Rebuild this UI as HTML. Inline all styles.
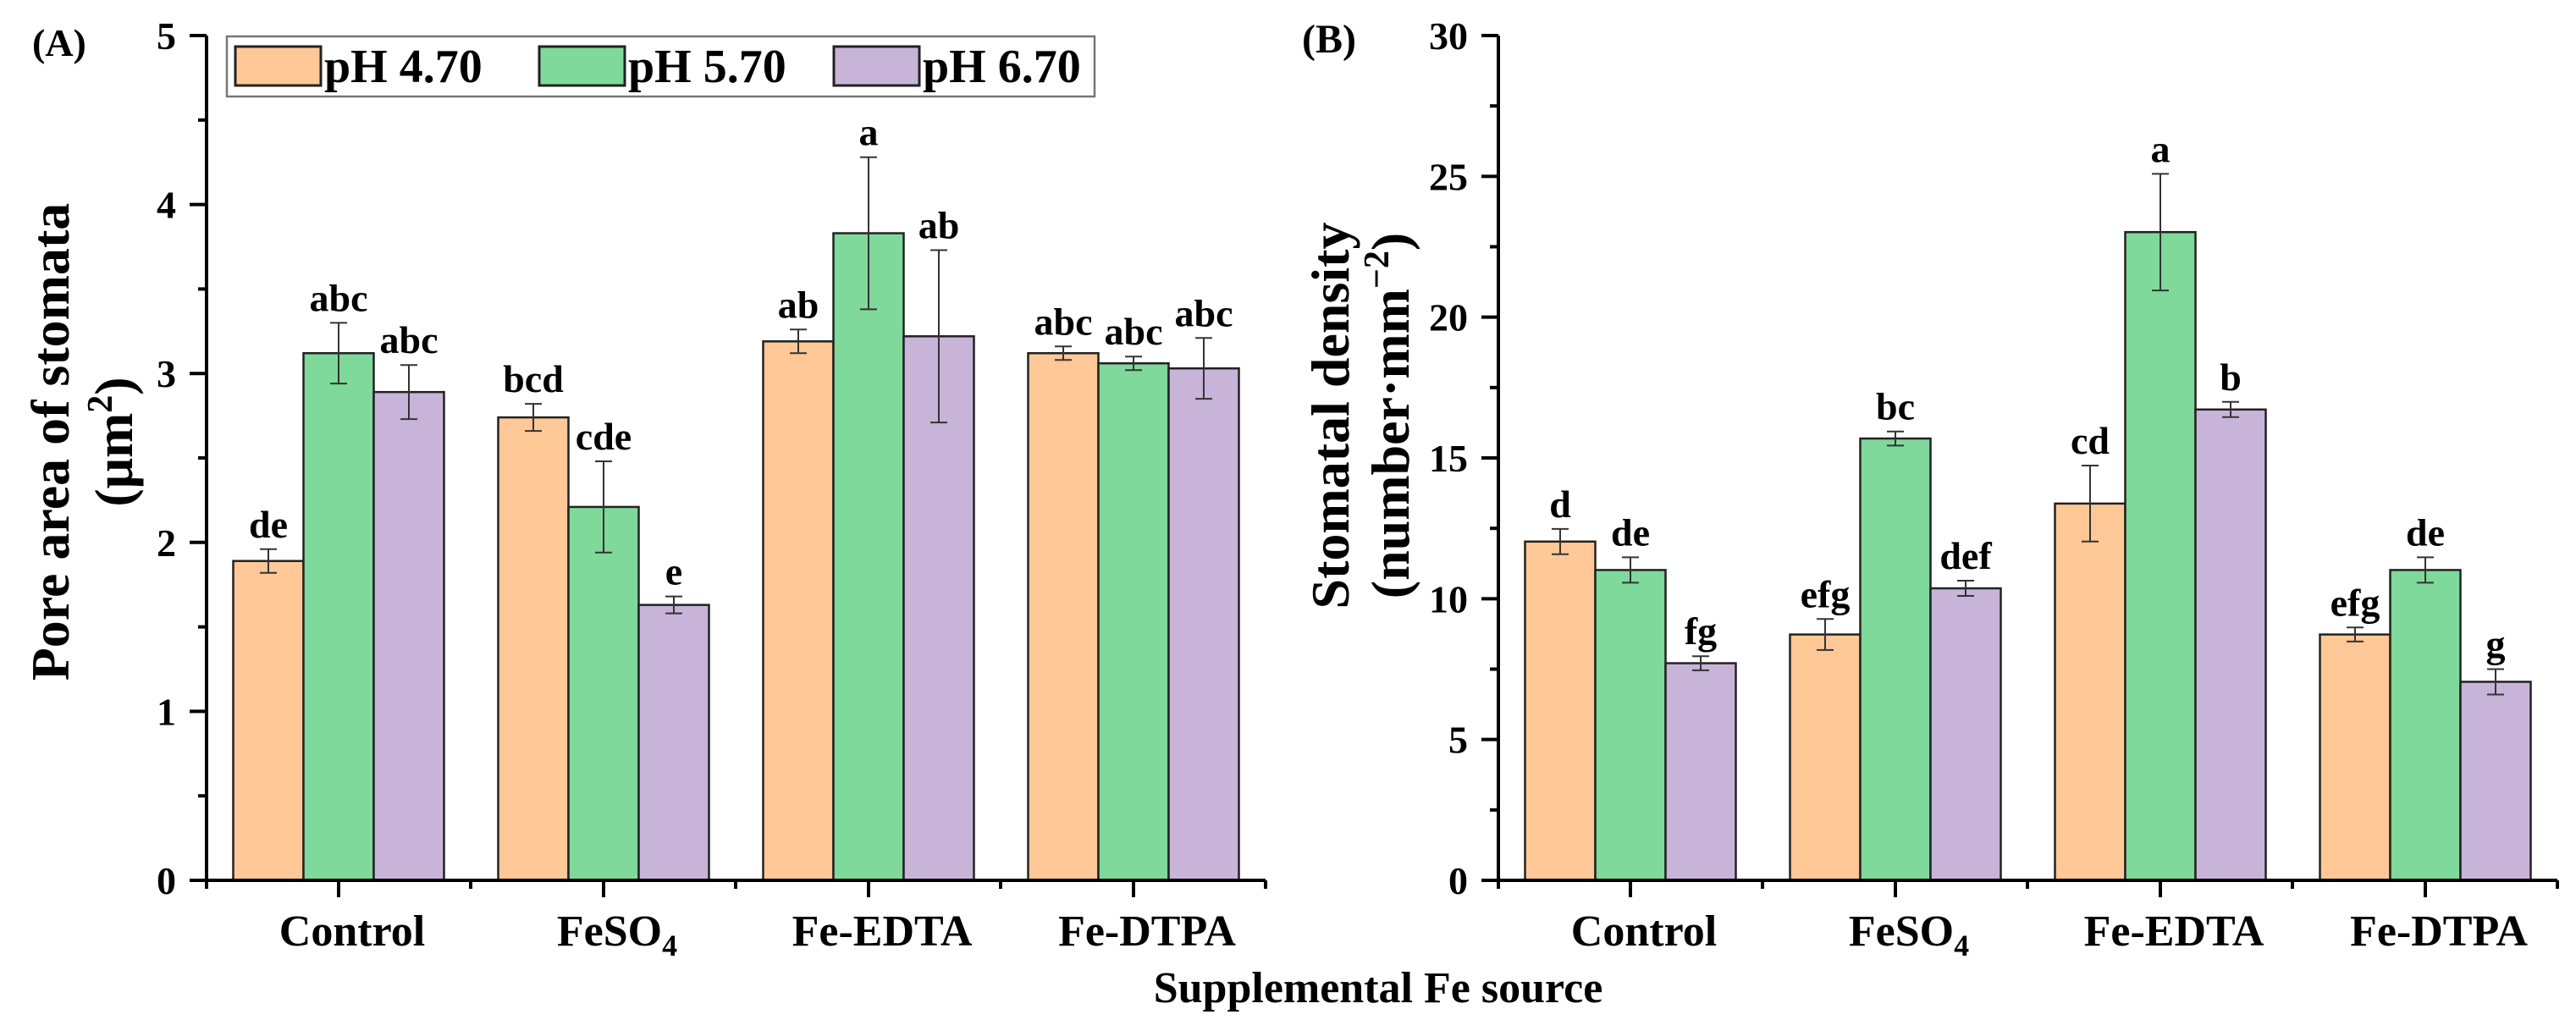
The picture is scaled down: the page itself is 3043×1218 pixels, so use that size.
<!DOCTYPE html>
<html><head><meta charset="utf-8">
<style>
html,body{margin:0;padding:0;background:#fff;}
svg{display:block;font-family:"Liberation Serif",serif;font-weight:bold;}
</style></head>
<body>
<svg id="fig" width="3043" height="1218" viewBox="0 0 3043 1218" xmlns="http://www.w3.org/2000/svg">
<rect x="0" y="0" width="3043" height="1218" fill="#fff"/>
<g id="panelA"></g>
<g id="panelB"></g>
<text x="1628" y="1184" font-size="52" text-anchor="middle">Supplemental Fe source</text>
<g>
  <rect x="268" y="43" width="1025" height="71" fill="#fff" stroke="#777" stroke-width="2.5"/>
  <g>
    <rect x="278" y="55" width="101" height="46" fill="#FFC896" stroke="#222" stroke-width="3"/>
    <text x="383" y="97" font-size="56">pH 4.70</text>
  </g>
  <g>
    <rect x="637" y="55" width="101" height="46" fill="#7FD99A" stroke="#222" stroke-width="3"/>
    <text x="742" y="97" font-size="56">pH 5.70</text>
  </g>
  <g>
    <rect x="985" y="55" width="101" height="46" fill="#C8B4D8" stroke="#222" stroke-width="3"/>
    <text x="1090" y="97" font-size="56">pH 6.70</text>
  </g>
</g>
</svg>
<script>
const categories = ["Control", "FeSO4", "Fe-EDTA", "Fe-DTPA"];
const seriesNames = ["pH 4.70", "pH 5.70", "pH 6.70"];
// Panel A: pore area (µm²)
const poreMeans = [[1.89, 2.74, 3.19, 3.12], [3.12, 2.21, 3.83, 3.06], [2.89, 1.63, 3.22, 3.03]];
const poreErrs  = [[0.07, 0.08, 0.07, 0.04], [0.18, 0.27, 0.45, 0.04], [0.16, 0.05, 0.51, 0.18]];
const poreLetters = [["de", "bcd", "ab", "abc"], ["abc", "cde", "a", "abc"], ["abc", "e", "ab", "abc"]];
const poreTicks = [0, 1, 2, 3, 4, 5];
// Panel B: stomatal density
const densMeans = [[12.03, 8.73, 13.38, 8.73], [11.02, 15.69, 23.02, 11.02], [7.71, 10.37, 16.72, 7.05]];
const densErrs  = [[0.45, 0.55, 1.35, 0.25], [0.45, 0.25, 2.07, 0.45], [0.25, 0.27, 0.27, 0.45]];
const densLetters = [["d", "efg", "cd", "efg"], ["de", "bc", "a", "de"], ["fg", "def", "b", "g"]];
const densTicks = [0, 5, 10, 15, 20, 25, 30];

const colors = ["#FFC896", "#7FD99A", "#C8B4D8"];
const NS = "http://www.w3.org/2000/svg";
function mk(tag, attrs, parent, txt) {
  const e = document.createElementNS(NS, tag);
  for (const k in attrs) e.setAttribute(k, attrs[k]);
  if (txt !== undefined) e.textContent = txt;
  parent.appendChild(e);
  return e;
}

function drawPanel(g, cfg) {
  const y0 = 1040, yTop = 42;
  const yMax = cfg.ticks[cfg.ticks.length - 1];
  const ys = v => y0 - (v / yMax) * (y0 - yTop);
  const step = 313;
  const xc = i => cfg.axisX + 156 + i * step;
  const bw = 83;
  // bars
  for (let s = 0; s < cfg.means.length; s++) {
    for (let i = 0; i < categories.length; i++) {
      const v = cfg.means[s][i], e = cfg.errs[s][i];
      const cx = xc(i) + (s - 1) * bw;
      const r = mk("rect", {x: cx - bw / 2, y: ys(v), width: bw, height: y0 - ys(v), fill: colors[s], stroke: "#222", "stroke-width": 2.5}, g);
      
      
      const eb = mk("path", {d: `M${cx},${ys(v + e)}V${ys(v - e)}M${cx - 10},${ys(v + e)}h20M${cx - 10},${ys(v - e)}h20`, stroke: "#333", "stroke-width": 2, fill: "none"}, g);
      
      
      const t = mk("text", {x: cx, y: ys(v + e) - 14, "font-size": 46, "text-anchor": "middle"}, g, cfg.letters[s][i]);
      
      
    }
  }
  const axEnd = xc(3) + 156;
  // axes
  const ax = mk("path", {d: `M${cfg.axisX},${yTop}V${y0}M${cfg.axisX - 20},${y0}H${axEnd}`, stroke: "#000", "stroke-width": 4, fill: "none"}, g);
  
  
  // y ticks
  for (let k = 0; k < cfg.ticks.length; k++) {
    const y = ys(cfg.ticks[k]);
    const tk = mk("line", {x1: cfg.axisX - 20, x2: cfg.axisX, y1: y, y2: y, stroke: "#000", "stroke-width": 4}, g);
    
    
    if (k < cfg.ticks.length - 1) {
      const ym = ys((cfg.ticks[k] + cfg.ticks[k + 1]) / 2);
      mk("line", {x1: cfg.axisX - 10, x2: cfg.axisX, y1: ym, y2: ym, stroke: "#000", "stroke-width": 4}, g);
    }
    const tl = mk("text", {x: cfg.axisX - 36, y: y + 16, "font-size": 46, "text-anchor": "end"}, g, String(cfg.ticks[k]));
    
    
  }
  // x ticks and labels
  for (let i = 0; i < categories.length; i++) {
    mk("line", {x1: xc(i), x2: xc(i), y1: y0, y2: y0 + 20, stroke: "#000", "stroke-width": 4}, g);
    mk("line", {x1: xc(i) + 156, x2: xc(i) + 156, y1: y0, y2: y0 + 10, stroke: "#000", "stroke-width": 4}, g);
    const lab = mk("text", {x: xc(i) + 16, y: 1117, "font-size": 52, "text-anchor": "middle"}, g);
    
    
    if (categories[i] === "FeSO4") {
      lab.textContent = "FeSO";
      mk("tspan", {"font-size": 36, dy: 12}, lab, "4");
    } else lab.textContent = categories[i];
  }
  mk("line", {x1: cfg.axisX, x2: cfg.axisX, y1: y0, y2: y0 + 10, stroke: "#000", "stroke-width": 4}, g);
}

const gA = document.getElementById("panelA");
drawPanel(gA, {axisX: 244, ticks: poreTicks, means: poreMeans, errs: poreErrs, letters: poreLetters});
const gB = document.getElementById("panelB");
drawPanel(gB, {axisX: 1770, ticks: densTicks, means: densMeans, errs: densErrs, letters: densLetters});

// panel labels and y titles
let t;
t = mk("text", {x: 38, y: 66, "font-size": 46}, gA, "(A)");


t = mk("text", {x: 1538, y: 62, "font-size": 48}, gB, "(B)");



t = mk("text", {transform: "translate(81,522) rotate(-90)", "font-size": 64, "text-anchor": "middle"}, gA, "Pore area of stomata");


t = mk("text", {transform: "translate(156,522) rotate(-90)", "font-size": 64, "text-anchor": "middle"}, gA);


t.textContent = "(\u03bcm";
mk("tspan", {"font-size": 42, dy: -24}, t, "2");
mk("tspan", {dy: 24}, t, ")");

t = mk("text", {transform: "translate(1593,491) rotate(-90)", "font-size": 64, "text-anchor": "middle"}, gB, "Stomatal density");


t = mk("text", {transform: "translate(1664,491) rotate(-90)", "font-size": 64, "text-anchor": "middle"}, gB);


t.textContent = "(number\u00b7mm";
mk("tspan", {"font-size": 42, dy: -24}, t, "\u22122");
mk("tspan", {dy: 24}, t, ")");
</script>
</body></html>
